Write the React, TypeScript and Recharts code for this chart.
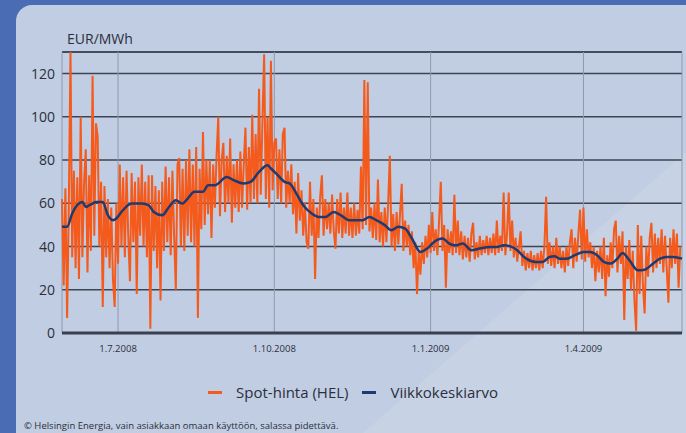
import React from 'react';
import { LineChart, Line, XAxis, YAxis, CartesianGrid, ReferenceLine, Legend } from 'recharts';

// Daily spot price (EUR/MWh), day 0 = 29.5.2008
const spot = [
  62, 22, 67, 7, 58, 130, 35,
  75, 30, 72, 25, 100, 35, 70,
  85, 28, 73, 38, 119, 45, 97,
  91, 40, 70, 12, 68, 35, 62,
  30, 58, 25, 12, 60, 32, 78,
  40, 72, 35, 75, 45, 24, 74,
  42, 70, 18, 72, 45, 78, 40,
  70, 35, 73, 2, 73, 38, 68,
  30, 66, 15, 70, 38, 77, 42,
  72, 36, 75, 45, 20, 78, 81,
  40, 76, 38, 80, 45, 85, 42,
  78, 40, 86, 7, 76, 48, 93,
  50, 80, 55, 80, 44, 78, 58,
  82, 100, 54, 80, 88, 56, 82,
  60, 90, 51, 78, 58, 80, 56,
  84, 58, 78, 95, 57, 86, 60,
  101, 62, 92, 60, 113, 64, 98,
  129, 62, 100, 58, 126, 66, 88,
  90, 62, 85, 60, 92, 95, 58,
  75, 60, 78, 55, 70, 46, 74,
  52, 66, 45, 60, 42, 39, 70,
  45, 62, 25, 58, 44, 63, 73,
  45, 62, 48, 60, 46, 64, 47,
  39, 62, 46, 65, 44, 58, 46,
  65, 45, 58, 44, 60, 45, 57,
  46, 77, 48, 117, 50, 116, 47,
  58, 44, 60, 43, 71, 42, 56,
  40, 58, 42, 60, 82, 40, 55,
  38, 56, 41, 55, 69, 38, 52,
  40, 50, 36, 47, 30, 42, 18,
  38, 27, 42, 32, 45, 35, 50,
  37, 56, 38, 48, 36, 52, 70,
  38, 50, 21, 48, 37, 47, 36,
  64, 37, 52, 36, 47, 34, 45,
  35, 44, 33, 46, 51, 34, 42,
  35, 45, 36, 43, 37, 45, 36,
  44, 37, 46, 36, 52, 37, 45,
  38, 65, 36, 46, 65, 38, 52,
  35, 44, 33, 40, 47, 31, 38,
  29, 37, 30, 38, 29, 36, 30,
  37, 29, 38, 30, 40, 63, 32,
  42, 31, 40, 30, 44, 32, 40,
  30, 38, 28, 40, 31, 42, 48,
  30, 44, 33, 46, 57, 34, 58,
  33, 48, 35, 42, 30, 40, 24,
  38, 28, 40, 25, 44, 17, 36,
  26, 42, 30, 48, 52, 28, 45,
  32, 47, 6, 40, 25, 43, 20,
  38, 15, 1, 50, 18, 45, 22,
  9, 40, 26, 44, 51, 28, 46,
  30, 44, 32, 48, 28, 45, 30,
  14, 44, 30, 48, 32, 46, 21,
  40,
];

// Weekly moving average
const avgDay = [
  0, 3, 6, 12, 14, 16, 18, 20, 24, 27,
  30, 32, 35, 41, 47, 51, 54, 59, 63, 67,
  71, 74, 78, 83, 86, 90, 97, 101, 107, 111,
  116, 121, 123, 127, 131, 134, 138, 142, 147, 151,
  155, 160, 164, 169, 173, 177, 181, 185, 190, 194,
  198, 202, 206, 211, 215, 219, 224, 228, 232, 236,
  241, 246, 252, 256, 260, 264, 268, 272, 276, 279,
  283, 287, 290, 293, 297, 302, 307, 311, 315, 319,
  323, 327, 330, 334, 339, 343, 348, 352, 356, 360,
  365,
];
const avgValue = [
  49.1, 49.1, 55.3, 60.6, 58.3, 59.1, 59.9, 60.6, 60.6, 54.5,
  52.2, 53, 56, 59.9, 59.9, 59.1, 56, 54.5, 58.3, 61.4,
  59.9, 62.2, 65.3, 65.3, 68.4, 68.4, 72.2, 70.7, 69.2, 69.9,
  74.5, 77.6, 76.1, 73, 69.9, 69.2, 64.5, 59.1, 55.3, 53.7,
  53.7, 56, 54.5, 52.2, 52.2, 52.2, 53.7, 52.2, 49.9, 47.5,
  49.1, 48.3, 43.7, 37.5, 39.1, 42.1, 43.7, 41.4, 40.6, 41.4,
  38.3, 39.1, 39.8, 39.8, 40.6, 40.1, 38.3, 35.2, 33.3, 32.9,
  32.9, 35.2, 35.5, 34.4, 34.4, 36, 37.5, 37.5, 36, 32.9,
  32.1, 34.4, 37, 33.7, 29, 29.3, 32.1, 34.4, 35.2, 35.2,
  34.4,
];

const xTickDays = [33, 125, 217, 307];
const xTickLabels = ['1.7.2008', '1.10.2008', '1.1.2009', '1.4.2009'];
const yTicks = [0, 20, 40, 60, 80, 100, 120];
const seriesNames = ['Spot-hinta (HEL)', 'Viikkokeskiarvo'];

const ORANGE = '#f45a1c';
const NAVY = '#1f3a70';
const FONT = '"Open Sans", "Noto Sans", sans-serif';

const spotData = spot.map((v, i) => ({ day: i, spot: v }));
const avgData = avgDay.map((d, i) => ({ day: d, avg: avgValue[i] }));

const renderLegend = () => (
  <div style={{ display: 'flex', justifyContent: 'center', alignItems: 'center', fontFamily: FONT, fontSize: 15, color: '#2b2f3b' }}>
    <span style={{ display: 'inline-block', width: 14, height: 3, background: ORANGE, marginRight: 14 }} />
    <span style={{ marginRight: 13 }}>{seriesNames[0]}</span>
    <span style={{ display: 'inline-block', width: 14, height: 3, background: NAVY, marginRight: 15 }} />
    <span>{seriesNames[1]}</span>
  </div>
);

export default function App() {
  return (
    <div style={{ position: 'absolute', left: 0, top: 0, width: 686, height: 433, overflow: 'hidden', background: '#4a6cb5' }}>
      <div style={{ position: 'absolute', left: 16, top: 5, width: 700, height: 460, background: '#c1cde3', borderRadius: 16, overflow: 'hidden' }}>
        <svg width={700} height={460} style={{ position: 'absolute', left: 0, top: 0 }}>
          <polygon points="690,130 690,460 310,460" fill="#ffffff" opacity={0.1} />
        </svg>
      </div>
      <div style={{ position: 'absolute', left: 67, top: 29, fontFamily: FONT, fontSize: 14, color: '#2b2f3b' }}>EUR/MWh</div>
      <div style={{ position: 'absolute', left: 0, top: 0 }}>
        <LineChart width={686} height={433} margin={{ top: 52, right: 4, bottom: 70, left: 12 }}>
          <CartesianGrid horizontal vertical={false} stroke="#3d4454" strokeWidth={1.5} />
          <XAxis
            type="number"
            dataKey="day"
            domain={[0, 365]}
            ticks={xTickDays}
            tickFormatter={(v) => xTickLabels[xTickDays.indexOf(v)]}
            tickLine={false}
            tickSize={6}
            tickMargin={6}
            height={30}
            axisLine={{ stroke: '#3a4050', strokeWidth: 3 }}
            tick={{ fontSize: 9.5, fill: '#2b2f3b', fontFamily: FONT }}
            allowDuplicatedCategory={false}
          />
          <YAxis
            type="number"
            domain={[0, 130]}
            ticks={yTicks}
            width={50}
            tickLine={false}
            axisLine={false}
            tickSize={6}
            tickMargin={1}
            tick={{ fontSize: 14, fill: '#2b2f3b', fontFamily: FONT }}
          />
          <ReferenceLine y={130} stroke="#3d4454" strokeWidth={1.5} />
          <ReferenceLine x={0} stroke="#8e9ab0" strokeWidth={1} />
          <ReferenceLine x={365} stroke="#8e9ab0" strokeWidth={1} />
          {xTickDays.map((d) => (
            <ReferenceLine key={d} x={d} stroke="#8e9ab0" strokeWidth={1} />
          ))}
          <Legend
            layout="horizontal"
            verticalAlign="middle"
            align="center"
            content={renderLegend}
            wrapperStyle={{ top: 382, left: 10, width: 686 }}
          />
          <Line
            data={spotData}
            dataKey="spot"
            name={seriesNames[0]}
            type="linear"
            stroke={ORANGE}
            strokeWidth={2}
            strokeLinejoin="miter"
            dot={false}
            isAnimationActive={false}
          />
          <Line
            data={avgData}
            dataKey="avg"
            name={seriesNames[1]}
            type="monotone"
            stroke={NAVY}
            strokeWidth={2.5}
            dot={false}
            isAnimationActive={false}
          />
        </LineChart>
      </div>
      <div style={{ position: 'absolute', left: 24, top: 419, fontFamily: FONT, fontSize: 9.5, lineHeight: '13px', color: '#2b2f3b', whiteSpace: 'nowrap' }}>
        © Helsingin Energia, vain asiakkaan omaan käyttöön, salassa pidettävä.
      </div>
    </div>
  );
}
